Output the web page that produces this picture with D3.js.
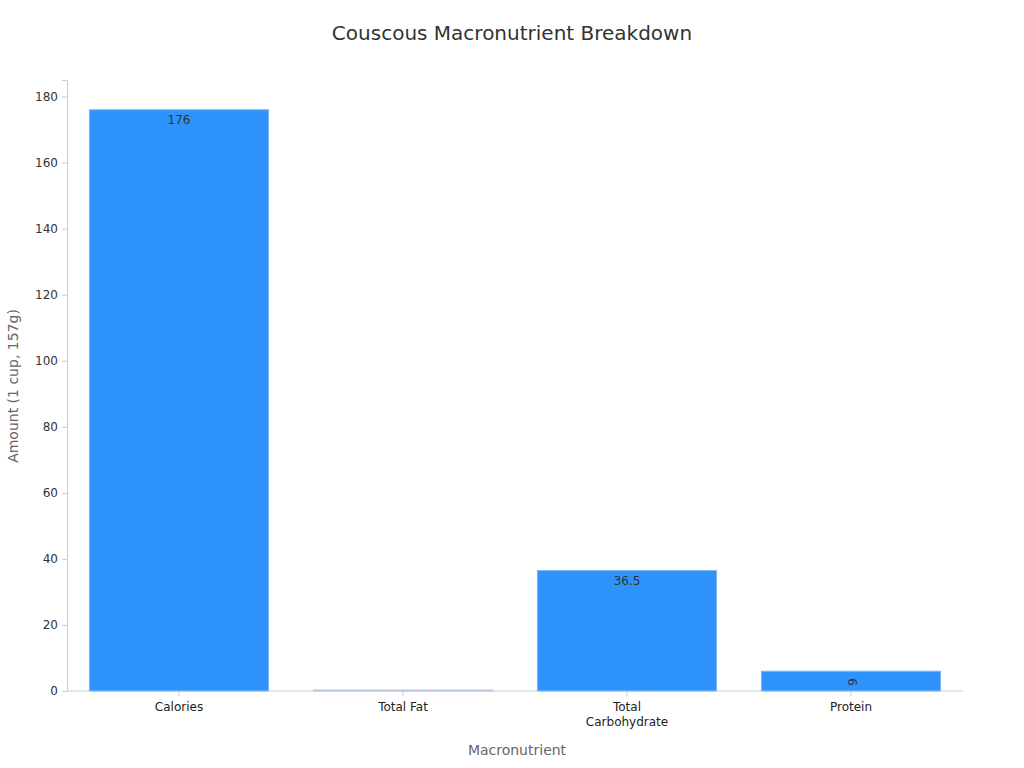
<!DOCTYPE html>
<html><head><meta charset="utf-8">
<script src="https://cdn.jsdelivr.net/npm/d3@7"></script>
<style>body{margin:0;background:#fff;font-family:"DejaVu Sans",sans-serif}</style>
</head><body><svg id="c" width="1024" height="768"></svg>
<script>
var categories = ['Calories', 'Total Fat', 'Total Carbohydrate', 'Protein'];
var values = [176, 0.3, 36.5, 6];
var labels = ['176', '', '36.5', '6'];
var yTicks = [0, 20, 40, 60, 80, 100, 120, 140, 160, 180];

var svg = d3.select('#c'),
    plotLeft = 67, plotRight = 963, plotTop = 80, plotBottom = 691;

var x = d3.scaleBand().domain(categories).range([plotLeft, plotRight]).paddingInner(0.2).paddingOuter(0.1);
var y = d3.scaleLinear().domain([0, 185]).range([plotBottom, plotTop]);

svg.append('text').attr('x', 512).attr('y', 40).attr('text-anchor', 'middle')
    .attr('font-size', 20).attr('fill', '#333').text('Couscous Macronutrient Breakdown');

var ya = svg.append('g').attr('transform', 'translate(' + plotLeft + ',0)')
    .call(d3.axisLeft(y).tickValues(yTicks).tickSize(5).tickPadding(4));
ya.selectAll('text').attr('font-size', 12).attr('fill', '#333').style('font-family', 'DejaVu Sans');
ya.selectAll('line,path').attr('stroke', '#ccc');

var xa = svg.append('g').attr('transform', 'translate(0,' + plotBottom + ')')
    .call(d3.axisBottom(x).tickSize(5).tickPadding(6).tickSizeOuter(0));
xa.selectAll('line,path').attr('stroke', '#ccc');
xa.select('.domain').attr('d', 'M' + plotLeft + ',0H' + plotRight);
xa.selectAll('text').attr('font-size', 12).attr('fill', '#222').style('font-family', 'DejaVu Sans')
    .each(function(d) {
        var t = d3.select(this);
        if (d === 'Total Carbohydrate') {
            t.text(null);
            t.append('tspan').attr('x', 0).attr('dy', '0.71em').text('Total');
            t.append('tspan').attr('x', 0).attr('dy', '1.3em').text('Carbohydrate');
        }
    });

svg.selectAll('.bar').data(values).enter().append('rect')
    .attr('x', function(d, i) { return x(categories[i]); })
    .attr('y', function(d) { return y(d); })
    .attr('width', x.bandwidth())
    .attr('height', function(d) { return plotBottom - y(d); })
    .attr('fill', function(d, i) { return i === 1 ? '#dde6ee' : '#2e93fa'; })
    .attr('stroke', function(d, i) { return i === 1 ? '#b8c8d8' : '#7fbaf7'; })
    .attr('stroke-width', 1);

svg.selectAll('.lbl').data(values).enter().append('text')
    .attr('transform', function(d, i) {
        var cx = x(categories[i]) + x.bandwidth() / 2, cy = y(d) + 11;
        return 'translate(' + cx + ',' + cy + ')' + (i === 3 ? ' rotate(90)' : '');
    })
    .attr('text-anchor', 'middle').attr('dominant-baseline', 'middle')
    .attr('font-size', 12).attr('fill', '#333')
    .text(function(d, i) { return labels[i]; });

svg.append('text').attr('x', 517).attr('y', 755).attr('text-anchor', 'middle')
    .attr('font-size', 14).attr('fill', '#666').text('Macronutrient');
svg.append('text').attr('transform', 'translate(18,386) rotate(-90)').attr('text-anchor', 'middle')
    .attr('font-size', 14).attr('fill', '#666').text('Amount (1 cup, 157g)');
</script></body></html>
